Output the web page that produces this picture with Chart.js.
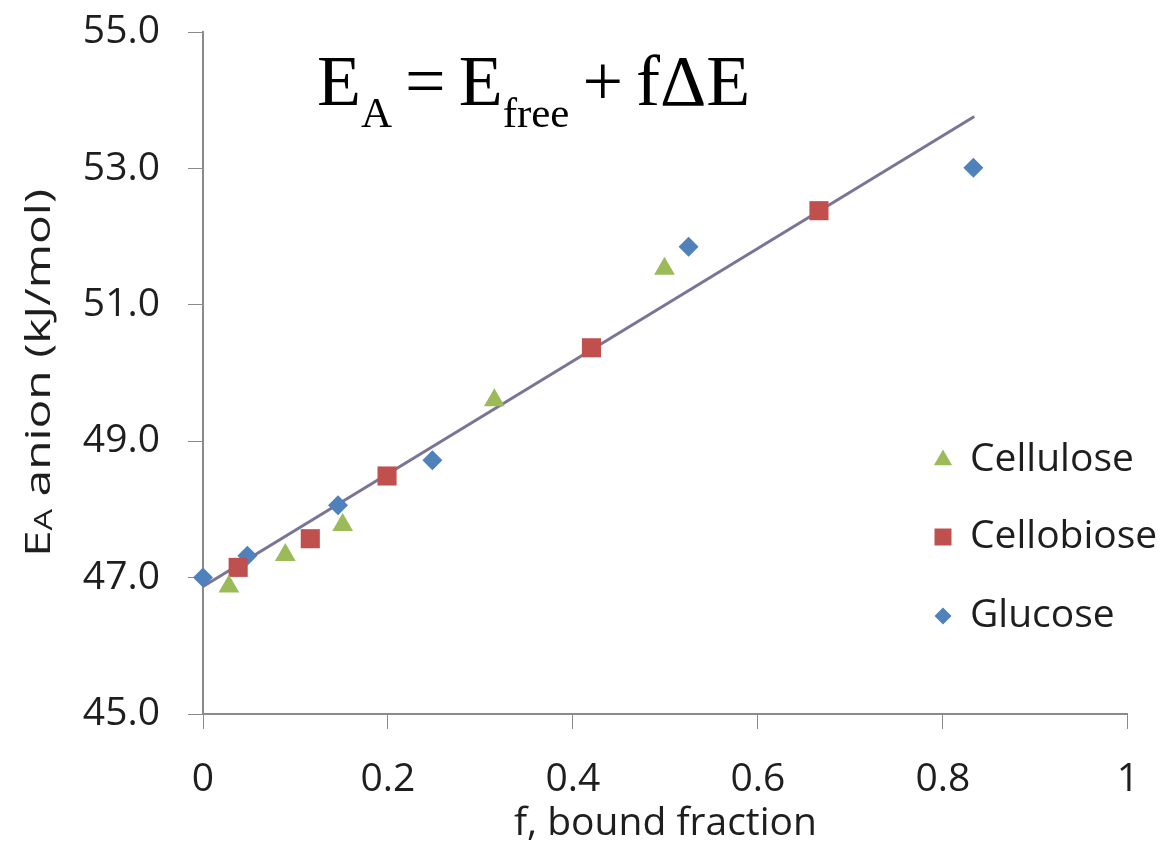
<!DOCTYPE html>
<html>
<head>
<meta charset="utf-8">
<script src="https://cdn.jsdelivr.net/npm/chart.js@4/dist/chart.umd.min.js"></script>
<style>
  html, body { margin: 0; padding: 0; background: #fff; }
  #wrap { position: relative; width: 1166px; height: 847px; }
  #eq {
    position: absolute; left: 317px; top: 45px;
    font-family: "Liberation Serif", "Times New Roman", serif;
    font-size: 72px; line-height: 1; color: #000; white-space: nowrap;
    word-spacing: -5px;
  }
  #eq sub { font-size: 43px; vertical-align: baseline; position: relative; top: 22px; }
</style>
</head>
<body>
<div id="wrap">
  <canvas id="chart-ea"></canvas>
  <div id="eq">E<sub>A</sub> = E<sub>free</sub> + fΔE</div>
</div>
<script>
// bound fraction f vs. E_A (kJ/mol)
var celluloseF = [0.028, 0.089, 0.151, 0.315, 0.499];
var celluloseE = [46.87, 47.33, 47.77, 49.60, 51.53];
var cellobioseF = [0.038, 0.116, 0.199, 0.420, 0.666];
var cellobioseE = [47.15, 47.57, 48.49, 50.37, 52.38];
var glucoseF = [0, 0.048, 0.146, 0.248, 0.525, 0.833];
var glucoseE = [47.0, 47.32, 48.06, 48.72, 51.85, 53.01];
// fitted line end points
var fitF = [0, 0.834];
var fitE = [46.87, 53.76];

var yTicks = [45, 47, 49, 51, 53, 55];
var xTicks = [0, 0.2, 0.4, 0.6, 0.8, 1];
var xTickLabels = ['0', '0.2', '0.4', '0.6', '0.8', '1'];

function pts(xs, ys) {
  return xs.map(function(x, i) { return { x: x, y: ys[i] }; });
}

var AXIS = '#8a8a8a';
var TXT = '#1e1e1e';

/** 凡例（プロット内右側） */
var legendInside = {
  id: 'legendInside',
  afterDraw: function(c) {
    var ctx = c.ctx;
    var rows = [460, 537, 616];
    var sets = c.data.datasets.filter(function(d) { return !d.isFit; });
    ctx.save();
    sets.forEach(function(d, i) {
      ctx.fillStyle = d.backgroundColor;
      ctx.strokeStyle = d.backgroundColor;
      Chart.helpers.drawPoint(ctx, { pointStyle: d.pointStyle, radius: d.pointRadius - 1.5, rotation: 0, borderWidth: 0 }, 943, rows[i]);
      ctx.fillStyle = TXT;
      ctx.font = '39px "Open Sans"';
      ctx.textBaseline = 'middle';
      ctx.fillText(d.label, 970, rows[i]);
    });
    ctx.restore();
  }
};

/** Y軸タイトル（下付き文字付き） */
var yTitle = {
  id: 'yTitle',
  afterDraw: function(c) {
    var ctx = c.ctx;
    var big = '35px "Open Sans"', small = '25px "Open Sans"';
    var midY = (c.chartArea.top + c.chartArea.bottom) / 2;
    ctx.save();
    ctx.font = big;
    var w1 = ctx.measureText('E').width;
    var w3 = ctx.measureText(' anion (kJ/mol)').width;
    ctx.font = small;
    var w2 = ctx.measureText('A').width;
    var total = w1 + w2 + w3;
    var sx = 368 / total;
    ctx.translate(35, midY);
    ctx.rotate(-Math.PI / 2);
    ctx.scale(sx, 1);
    ctx.fillStyle = TXT;
    ctx.textBaseline = 'alphabetic';
    var x0 = -total / 2;
    ctx.font = big;
    ctx.fillText('E', x0, 15);
    ctx.font = small;
    ctx.fillText('A', x0 + w1, 17);
    ctx.font = big;
    ctx.fillText(' anion (kJ/mol)', x0 + w1 + w2, 15);
    ctx.restore();
  }
};

new Chart(document.getElementById('chart-ea'), {
  type: 'scatter',
  data: {
    datasets: [
      {
        label: 'Cellulose',
        data: pts(celluloseF, celluloseE),
        pointStyle: 'triangle',
        pointRadius: 12,
        backgroundColor: '#9bbb59',
        borderColor: '#9bbb59',
        borderWidth: 0,
        clip: false
      },
      {
        label: 'Cellobiose',
        data: pts(cellobioseF, cellobioseE),
        pointStyle: 'rect',
        pointRadius: 13.5,
        backgroundColor: '#c0504d',
        borderColor: '#c0504d',
        borderWidth: 0,
        clip: false
      },
      {
        label: 'Glucose',
        data: pts(glucoseF, glucoseE),
        pointStyle: 'rectRot',
        pointRadius: 10,
        backgroundColor: '#4f81bd',
        borderColor: '#4f81bd',
        borderWidth: 0,
        clip: false
      },
      {
        label: 'fit',
        isFit: true,
        type: 'line',
        data: pts(fitF, fitE),
        borderColor: '#7a7496',
        borderWidth: 3,
        pointRadius: 0,
        fill: false
      }
    ]
  },
  options: {
    responsive: true,
    maintainAspectRatio: false,
    animation: false,
    layout: { padding: { left: 0, right: 27, top: 32, bottom: 0 } },
    plugins: {
      legend: { display: false },
      tooltip: { enabled: false }
    },
    scales: {
      x: {
        type: 'linear',
        min: 0,
        max: 1,
        afterBuildTicks: function(s) { s.ticks = xTicks.map(function(v) { return { value: v }; }); },
        afterFit: function(s) { s.height = 133; },
        grid: { drawOnChartArea: false, drawTicks: true, tickLength: 15, color: AXIS },
        border: { color: AXIS, width: 2 },
        ticks: {
          color: TXT,
          padding: 27,
          font: { family: 'Open Sans', size: 39 },
          callback: function(v, i) { return xTickLabels[i]; }
        },
        title: {
          display: true,
          text: 'f, bound fraction',
          color: TXT,
          font: { family: 'Open Sans', size: 39 },
          padding: { top: 0, bottom: 0 }
        }
      },
      y: {
        type: 'linear',
        min: 45,
        max: 55,
        afterBuildTicks: function(s) { s.ticks = yTicks.map(function(v) { return { value: v }; }); },
        afterFit: function(s) { s.width = 203; s.paddingTop = 0; s.paddingBottom = 0; },
        grid: { drawOnChartArea: false, drawTicks: true, tickLength: 15, color: AXIS },
        border: { color: AXIS, width: 2 },
        ticks: {
          color: TXT,
          padding: 28,
          font: { family: 'Open Sans', size: 39 },
          callback: function(v) { return Number(v).toFixed(1); }
        }
      }
    }
  },
  plugins: [legendInside, yTitle]
});
</script>
</body>
</html>
